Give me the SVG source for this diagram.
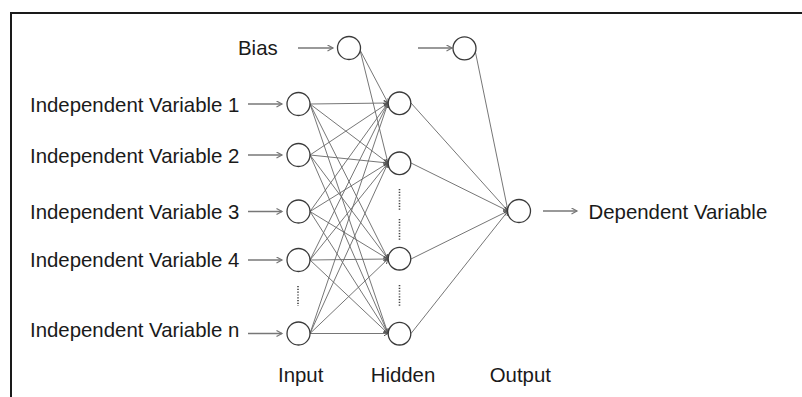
<svg xmlns="http://www.w3.org/2000/svg" width="802" height="397" viewBox="0 0 802 397">
<style>
.bg{fill:#ffffff}
.frame{fill:none;stroke:#1a1a1a;stroke-width:2}
.node{fill:#ffffff;stroke:#3a3a3a;stroke-width:1.3}
.lbl{font-family:"Liberation Sans",Arial,sans-serif;font-size:20.4px;fill:#1a1a1a}
.conn{stroke:#666666;stroke-width:0.9;fill:none;marker-end:url(#tip)}
.inarrow{stroke:#777777;stroke-width:1.3;fill:none;marker-end:url(#arr)}
.dots{stroke:#444444;stroke-width:1.6;stroke-dasharray:1.2 1.6;fill:none}
</style>
<defs>
<marker id="arr" markerUnits="userSpaceOnUse" markerWidth="8" markerHeight="8" refX="6" refY="3.5" orient="auto">
<path d="M0.5,0.5 L6,3.5 L0.5,6.5" fill="none" stroke="#777777" stroke-width="1.2"/>
</marker>
<marker id="tip" markerUnits="userSpaceOnUse" markerWidth="6" markerHeight="6" refX="4.5" refY="2.5" orient="auto">
<path d="M0,0 L4.5,2.5 L0,5" fill="none" stroke="#555555" stroke-width="1"/>
</marker>
</defs>
<rect class="bg" x="0" y="0" width="802" height="397"/>
<rect class="frame" x="11" y="13" width="900" height="500"/>

<g id="connectors">
<line class="inarrow" x1="248" y1="104" x2="282" y2="104"/>
<line class="inarrow" x1="248" y1="155" x2="282" y2="155"/>
<line class="inarrow" x1="248" y1="211.5" x2="282" y2="211.5"/>
<line class="inarrow" x1="248" y1="260" x2="282" y2="260"/>
<line class="inarrow" x1="248" y1="333.5" x2="282" y2="333.5"/>
<line class="inarrow" x1="298" y1="48" x2="333" y2="48"/>
<line class="inarrow" x1="418" y1="48" x2="452" y2="48"/>
<line class="inarrow" x1="543" y1="211" x2="577" y2="211"/>
<line class="conn" x1="360" y1="50" x2="388" y2="103"/>
<line class="conn" x1="360" y1="50" x2="388" y2="163"/>
<line class="conn" x1="310" y1="104" x2="388" y2="103"/>
<line class="conn" x1="310" y1="104" x2="388" y2="163"/>
<line class="conn" x1="310" y1="104" x2="388" y2="259"/>
<line class="conn" x1="310" y1="104" x2="388" y2="333.5"/>
<line class="conn" x1="310" y1="155" x2="388" y2="103"/>
<line class="conn" x1="310" y1="155" x2="388" y2="163"/>
<line class="conn" x1="310" y1="155" x2="388" y2="259"/>
<line class="conn" x1="310" y1="155" x2="388" y2="333.5"/>
<line class="conn" x1="310" y1="211.5" x2="388" y2="103"/>
<line class="conn" x1="310" y1="211.5" x2="388" y2="163"/>
<line class="conn" x1="310" y1="211.5" x2="388" y2="259"/>
<line class="conn" x1="310" y1="211.5" x2="388" y2="333.5"/>
<line class="conn" x1="310" y1="260" x2="388" y2="103"/>
<line class="conn" x1="310" y1="260" x2="388" y2="163"/>
<line class="conn" x1="310" y1="260" x2="388" y2="259"/>
<line class="conn" x1="310" y1="260" x2="388" y2="333.5"/>
<line class="conn" x1="310" y1="333.5" x2="388" y2="103"/>
<line class="conn" x1="310" y1="333.5" x2="388" y2="163"/>
<line class="conn" x1="310" y1="333.5" x2="388" y2="259"/>
<line class="conn" x1="310" y1="333.5" x2="388" y2="333.5"/>
<line class="conn" x1="411" y1="103" x2="508" y2="211"/>
<line class="conn" x1="411" y1="163" x2="508" y2="211"/>
<line class="conn" x1="411" y1="259" x2="508" y2="211"/>
<line class="conn" x1="411" y1="333.5" x2="508" y2="211"/>
<line class="conn" x1="475" y1="50" x2="508" y2="211"/>
</g>

<g id="ellipsis">
<line class="dots" x1="298" y1="286" x2="298" y2="306"/>
<line class="dots" x1="399.5" y1="189" x2="399.5" y2="210"/>
<line class="dots" x1="399.5" y1="219" x2="399.5" y2="240"/>
<line class="dots" x1="399.5" y1="285" x2="399.5" y2="306"/>
</g>

<g id="bias-input">
<circle class="node" cx="349" cy="48" r="11.5"/>
<text class="lbl" x="238" y="55">Bias</text>
</g>
<g id="bias-hidden">
<circle class="node" cx="464.5" cy="48.3" r="11.5"/>
</g>
<g id="input-1">
<circle class="node" cx="298.5" cy="104" r="11.5"/>
<text class="lbl" x="30" y="112.3">Independent Variable 1</text>
</g>
<g id="input-2">
<circle class="node" cx="298.5" cy="155" r="11.5"/>
<text class="lbl" x="30" y="163.3">Independent Variable 2</text>
</g>
<g id="input-3">
<circle class="node" cx="298.5" cy="211.5" r="11.5"/>
<text class="lbl" x="30" y="219">Independent Variable 3</text>
</g>
<g id="input-4">
<circle class="node" cx="298.5" cy="260" r="11.5"/>
<text class="lbl" x="30" y="267.3">Independent Variable 4</text>
</g>
<g id="input-n">
<circle class="node" cx="298.5" cy="333.5" r="11.5"/>
<text class="lbl" x="30" y="336.7">Independent Variable n</text>
</g>
<g id="hidden-1">
<circle class="node" cx="399.5" cy="103.3" r="11.3"/>
</g>
<g id="hidden-2">
<circle class="node" cx="399.5" cy="163.3" r="11.3"/>
</g>
<g id="hidden-3">
<circle class="node" cx="399.5" cy="258.7" r="11.3"/>
</g>
<g id="hidden-4">
<circle class="node" cx="399.5" cy="333.7" r="11.3"/>
</g>
<g id="output">
<circle class="node" cx="519" cy="211" r="11.5"/>
<text class="lbl" x="588.5" y="219">Dependent Variable</text>
</g>
<g id="layer-labels">
<text class="lbl" x="278" y="382.3">Input</text>
<text class="lbl" x="370.7" y="382.3">Hidden</text>
<text class="lbl" x="489.7" y="382.3">Output</text>
</g>
</svg>
